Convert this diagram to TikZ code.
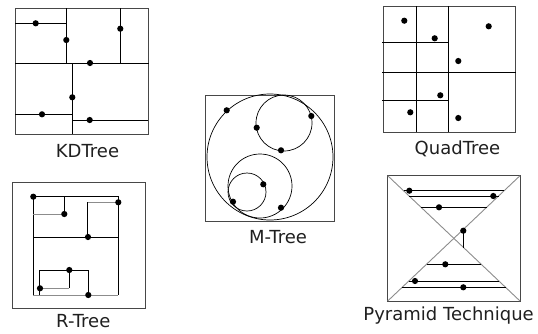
\documentclass[tikz,border=0pt]{standalone}
\usepackage{fontspec}
\setmainfont{DejaVu Sans}
\begin{document}
\begin{tikzpicture}[x=1pt,y=-1pt,line width=0.9pt,
  frame/.style={draw=black!72},
  ln/.style={draw=black},
  gln/.style={draw=black!45},
  dot/.style={fill=black},
  lbl/.style={anchor=base,inner sep=0pt,text=black!88,font=\fontsize{18}{20}\selectfont}]
\useasboundingbox (0,0) rectangle (538,333);
% ---------- KDTree ----------
\draw[frame] (15,8) rectangle (148,134);
\draw[ln] (15,63) -- (149,63);
\draw[ln] (66.3,8) -- (66.3,63);
\draw[ln] (120.3,8) -- (120.3,63);
\draw[ln] (15,23.3) -- (66.3,23.3);
\draw[ln] (72.3,63) -- (72.3,134);
\draw[ln] (15,114.3) -- (72.3,114.3);
\draw[ln] (72.3,120) -- (148,120);
\foreach \p in {(35.7,23.3),(66.3,40),(120.3,28.7),(90,63),(72.3,97.3),(42,114.3),(89.7,120)}
  \fill[dot] \p circle (3.1);
\node[lbl] (kd) at (87.5,157) {KDTree};
% ---------- R-Tree ----------
\draw[frame] (12.7,182.3) rectangle (145,308.3);
\draw[ln] (33.3,295) -- (33.3,196) -- (118.3,196) -- (118.3,295);
\draw[gln] (33.3,295) -- (118.3,295);
\draw[ln] (33.3,237) -- (118.3,237);
\draw[ln] (64.3,196) -- (64.3,214);
\draw[gln] (33.3,214) -- (64.3,214);
\draw[gln] (87.3,202.3) -- (118.3,202.3);
\draw[ln] (87.3,202.3) -- (87.3,237);
\draw[ln] (39.3,295) -- (39.3,270) -- (88.3,270) -- (88.3,295);
\draw[ln] (69.3,270) -- (69.3,288.3);
\draw[gln] (40.3,288.3) -- (69.3,288.3);
\foreach \p in {(33.3,196.7),(64.3,214),(118.3,202.3),(88,237),(69.3,270),(40,288.3),(88.3,295)}
  \fill[dot] \p circle (3.1);
\node[lbl] (rt) at (83.3,327.3) {R-Tree};
% ---------- M-Tree ----------
\draw[frame] (205.7,95.7) rectangle (334.3,221.7);
\draw[ln,line width=0.7pt] (270,157) circle (63);
\draw[ln,line width=0.7pt] (284,123) circle (28);
\draw[ln,line width=0.7pt] (260,186) circle (32);
\draw[ln,line width=0.7pt] (247,192) circle (19);
\foreach \p in {(226.7,110.3),(256.7,127.7),(311.3,116),(281,150.3),(263.3,184.3),(233,201.7),(281,207.7)}
  \fill[dot] \p circle (3.1);
\node[lbl] (mt) at (278,243) {M-Tree};
% ---------- QuadTree ----------
\draw[frame] (383.3,6) rectangle (515.7,132);
\draw[ln] (448.7,6) -- (448.7,132);
\draw[ln] (416.3,6) -- (416.3,132);
\draw[ln] (382,72.7) -- (515.7,72.7);
\draw[ln] (382,42.7) -- (448.7,42.7);
\draw[ln] (382,100.7) -- (448.7,100.7);
\foreach \p in {(404.3,20.7),(434.7,38.3),(488.7,26.3),(458.3,61),(440.3,95.3),(410.3,112.3),(458.3,118)}
  \fill[dot] \p circle (3.1);
\node[lbl] (qt) at (457.5,154) {QuadTree};
% ---------- Pyramid Technique ----------
\draw[frame] (387.7,175.7) rectangle (520,301);
\draw[gln] (387.7,175.7) -- (520,301);
\draw[gln] (387.7,301) -- (520,175.7);
\draw[ln] (403.5,190.7) -- (504.2,190.7);
\draw[ln] (409.1,196) -- (498.6,196);
\draw[ln] (421.1,207.3) -- (486.6,207.3);
\draw[ln] (426.5,264.3) -- (481.2,264.3);
\draw[ln] (408.8,281) -- (498.9,281);
\draw[ln] (402.2,287.3) -- (505.5,287.3);
\draw[ln] (463.3,230.7) -- (463.3,248.3);
\foreach \p in {(409.3,190.7),(493.3,196),(439,207.3),(463.3,230.7),(445.3,264.3),(415,281),(463.3,287.3)}
  \fill[dot] \p circle (3.1);
\node[lbl] (pt) at (448.6,320.7) {Pyramid Technique};
\end{tikzpicture}
\end{document}
